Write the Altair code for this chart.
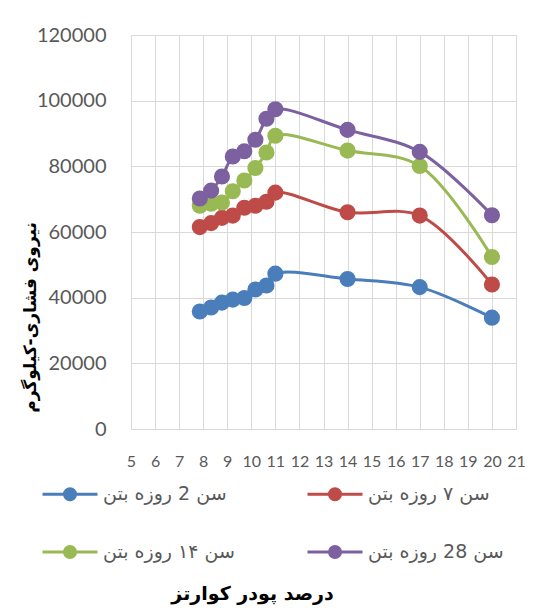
import altair as alt
import pandas as pd

x_vals = [7.86, 8.33, 8.78, 9.23, 9.71, 10.17, 10.63, 11.0, 14.0, 17.0, 20.0]
series_names = ["سن 2 روزه بتن", "سن ۷ روزه بتن", "سن ۱۴ روزه بتن", "سن 28 روزه بتن"]
age2 = [35800, 37000, 38500, 39400, 39900, 42500, 43700, 47300, 45700, 43200, 33900]
age7 = [61500, 62700, 64300, 65000, 67400, 68000, 69200, 72000, 66000, 65000, 44000]
age14 = [68000, 68600, 69000, 72400, 75700, 79500, 84200, 89300, 84800, 80100, 52400]
age28 = [70200, 72600, 76900, 83000, 84600, 88100, 94500, 97400, 91100, 84400, 65100]
colors = ["#4A7EBB", "#BE4B48", "#98B954", "#7D60A0"]

rows = []
for name, vals in zip(series_names, [age2, age7, age14, age28]):
    for xv, yv in zip(x_vals, vals):
        rows.append({"x": xv, "y": yv, "s": name})
df = pd.DataFrame(rows)

scale = alt.Scale(domain=series_names, range=colors)
xenc = alt.X("x:Q", scale=alt.Scale(domain=[5, 21], nice=False),
             axis=alt.Axis(values=list(range(5, 22)), title="درصد پودر کوارتز",
                           titleX=121, titleY=164, titleAlign="center", titleBaseline="middle",
                           titleFontSize=19, titleFontWeight="bold", titleFont="DejaVu Sans",
                           titleColor="#000000",
                           labelFontSize=16, labelFont="Lato", labelColor="#595959",
                           labelPadding=24, tickSize=0, labelFlush=False, labelOverlap=False,
                           labelBound=False,
                           gridColor="#D9D9D9", domainColor="#D9D9D9"))
yenc = alt.Y("y:Q", scale=alt.Scale(domain=[0, 120000], nice=False),
             axis=alt.Axis(values=list(range(0, 120001, 20000)), format="d",
                           title="نیروی فشاری-کیلوگرم",
                           titleX=-101, titleY=282, titleAngle=270, titleAlign="center",
                           titleBaseline="middle", titleFontSize=17, titleFontWeight="bold",
                           titleFont="DejaVu Sans", titleColor="#000000",
                           labelFontSize=20, labelFont="Lato", labelColor="#595959",
                           labelPadding=25, tickSize=0, labelOverlap=False,
                           gridColor="#D9D9D9", domainColor="#D9D9D9"))

sym = "M-1,0L-0.22,0M0.22,0L1,0M0.2,0A0.2,0.2 0 1 1 -0.2,0A0.2,0.2 0 1 1 0.2,0Z"

legend = alt.Legend(title=None, orient="none", legendX=-90, legendY=430, columns=2,
                    direction="horizontal",
                    symbolType=sym, symbolSize=3025, symbolStrokeWidth=3,
                    labelFontSize=19, labelFont="DejaVu Sans", labelColor="#595959",
                    columnPadding=66, rowPadding=17, labelOffset=4, labelLimit=300,
                    padding=0)

base = alt.Chart(df).encode(x=xenc, y=yenc)
lines = base.mark_line(interpolate="catmull-rom", strokeWidth=3).encode(
    stroke=alt.Stroke("s:N", scale=scale, legend=legend),
    detail="s:N",
)
points = base.mark_point(filled=True, size=200, opacity=1).encode(
    fill=alt.Fill("s:N", scale=scale, legend=legend),
    stroke=alt.Stroke("s:N", scale=scale, legend=legend),
)

chart = alt.layer(lines, points).properties(
    width=385, height=394,
    autosize=alt.AutoSizeParams(type="none"),
    padding={"left": 123, "top": 27, "right": 20, "bottom": 180},
).configure_view(stroke=None).configure(background="white")

chart.save("out.html", embed_options={"renderer": "svg", "actions": False})
